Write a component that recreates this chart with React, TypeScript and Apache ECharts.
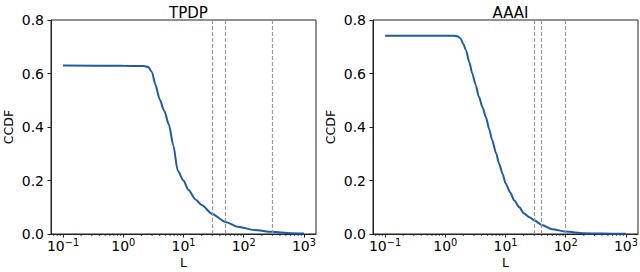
import React, { useEffect, useRef } from "react";
import * as echarts from "echarts";

// TPDP panel
const tpdpL = [0.1, 1, 2.2, 2.6, 3.0, 3.4, 4.0, 4.8, 5.7, 6.8, 8.0, 10, 12, 16, 20, 30, 50, 80, 150, 300, 600, 1000];
const tpdpCCDF = [0.630, 0.629, 0.628, 0.624, 0.605, 0.56, 0.505, 0.46, 0.41, 0.33, 0.237, 0.2, 0.165, 0.128, 0.108, 0.075, 0.045, 0.027, 0.015, 0.008, 0.003, 0.002];
const tpdpMarks = [30, 50, 300];

// AAAI panel
const aaaiL = [0.1, 1, 1.4, 1.6, 1.8, 2.0, 2.2, 2.5, 2.8, 3.2, 3.6, 4.2, 4.7, 5.4, 6.0, 7.0, 7.8, 9.0, 10, 12, 14, 17, 20, 25, 30, 40, 60, 100, 200, 400, 1000];
const aaaiCCDF = [0.741, 0.741, 0.741, 0.739, 0.731, 0.709, 0.688, 0.643, 0.601, 0.557, 0.514, 0.471, 0.438, 0.39, 0.351, 0.301, 0.264, 0.223, 0.19, 0.155, 0.125, 0.1, 0.078, 0.063, 0.051, 0.034, 0.018, 0.009, 0.003, 0.0015, 0.001];
const aaaiMarks = [30, 40, 100];

const titles = ["TPDP", "AAAI"];
const majorExp = [-1, 0, 1, 2, 3];

const FONT = "DejaVu Sans";
const X_MIN = -1.2;
const X_MAX = 3.2;

function minorTicks(): number[] {
  const out: number[] = [];
  for (let e = -2; e <= 3; e++) {
    for (let k = 2; k <= 9; k++) {
      const v = Math.log10(k * Math.pow(10, e));
      if (v > X_MIN && v < X_MAX) out.push(v);
    }
  }
  return out;
}

export default function App() {
  const ref = useRef<HTMLDivElement>(null);
  useEffect(() => {
    if (!ref.current) return;
    const chart = echarts.init(ref.current, undefined, { renderer: "svg" });
    const grids = [
      { left: 51, top: 20, width: 265, height: 214 },
      { left: 373, top: 20, width: 265, height: 214 },
    ];
    const panels = [
      { L: tpdpL, y: tpdpCCDF, marks: tpdpMarks },
      { L: aaaiL, y: aaaiCCDF, marks: aaaiMarks },
    ];
    const minors = minorTicks();
    const xAxes: any[] = [];
    const yAxes: any[] = [];
    const series: any[] = [];
    panels.forEach((p, i) => {
      xAxes.push({
        type: "value",
        gridIndex: i,
        position: "bottom",
        min: X_MIN,
        max: X_MAX,
        name: "L",
        nameLocation: "middle",
        nameGap: 22,
        nameMoveOverlap: false,
        nameTextStyle: { fontFamily: FONT, fontSize: 12.5, color: "#000" },
        axisLine: { show: true, onZero: false, lineStyle: { color: "#222", width: 1 } },
        axisTick: { show: true, length: 3.5, inside: false, customValues: majorExp, lineStyle: { color: "#222", width: 1 } },
        axisLabel: {
          show: true,
          customValues: majorExp,
          margin: 3,
          fontFamily: FONT,
          fontSize: 14,
          color: "#000",
          formatter: (v: number) => {
            const e = Math.round(v);
            const s = e < 0 ? "\u2212" + String(-e) : String(e);
            return "{b|10}{s|" + s + "}";
          },
          rich: {
            b: { fontFamily: FONT, fontSize: 14, color: "#000", lineHeight: 16, verticalAlign: "bottom" },
            s: { fontFamily: FONT, fontSize: 9.8, color: "#000", lineHeight: 10, verticalAlign: "top", padding: [0, 0, 8, 0] },
          },
        },
        splitLine: { show: false },
      });
      yAxes.push({
        type: "value",
        gridIndex: i,
        min: 0,
        max: 0.8,
        interval: 0.2,
        name: "CCDF",
        nameLocation: "middle",
        nameGap: 36,
        nameMoveOverlap: false,
        nameTextStyle: { fontFamily: FONT, fontSize: 12.5, color: "#000" },
        axisLine: { show: true, onZero: false, lineStyle: { color: "#222", width: 1 } },
        axisTick: { show: true, length: 3.5, lineStyle: { color: "#222", width: 1 } },
        axisLabel: {
          margin: 7,
          fontFamily: FONT,
          fontSize: 14,
          color: "#000",
          formatter: (v: number) => v.toFixed(1),
        },
        splitLine: { show: false },
      });
      series.push({
        type: "line",
        xAxisIndex: i,
        yAxisIndex: i,
        data: p.L.map((l, j) => [Math.log10(l), p.y[j]]),
        showSymbol: false,
        smooth: 0.25,
        smoothMonotone: "x",
        lineStyle: { color: "#1f5aa6", width: 2 },
        z: 3,
        markLine: {
          silent: true,
          symbol: ["none", "none"],
          label: { show: false },
          lineStyle: { color: "#999", width: 1.2, type: [4, 2] },
          data: p.marks.map((m) => ({ xAxis: Math.log10(m) })),
        },
      });
      // minor log ticks below the x axis
      series.push({
        type: "custom",
        xAxisIndex: i,
        yAxisIndex: i,
        clip: false,
        silent: true,
        data: minors.map((v) => [v, 0]),
        renderItem: (_params: any, api: any) => {
          const pt = api.coord([api.value(0), 0]);
          return {
            type: "line",
            shape: { x1: pt[0], y1: pt[1], x2: pt[0], y2: pt[1] + 2 },
            style: { stroke: "#222", lineWidth: 0.8 },
          };
        },
      });
    });

    chart.setOption({
      animation: false,
      backgroundColor: "#fff",
      title: titles.map((t, i) => ({
        text: t,
        left: grids[i].left + grids[i].width / 2,
        top: 0,
        textAlign: "center",
        textStyle: { fontFamily: FONT, fontSize: 15, fontWeight: "normal", color: "#000" },
      })),
      grid: grids.map((g) => ({
        ...g,
        containLabel: false,
        outerBoundsMode: "none",
        show: true,
        borderColor: "#222",
        borderWidth: 1,
        backgroundColor: "transparent",
      })),
      xAxis: xAxes,
      yAxis: yAxes,
      series,
    });
    return () => chart.dispose();
  }, []);
  return (
    <div
      ref={ref}
      style={{ position: "fixed", left: 0, top: 0, width: 640, height: 272, background: "#fff" }}
    />
  );
}
